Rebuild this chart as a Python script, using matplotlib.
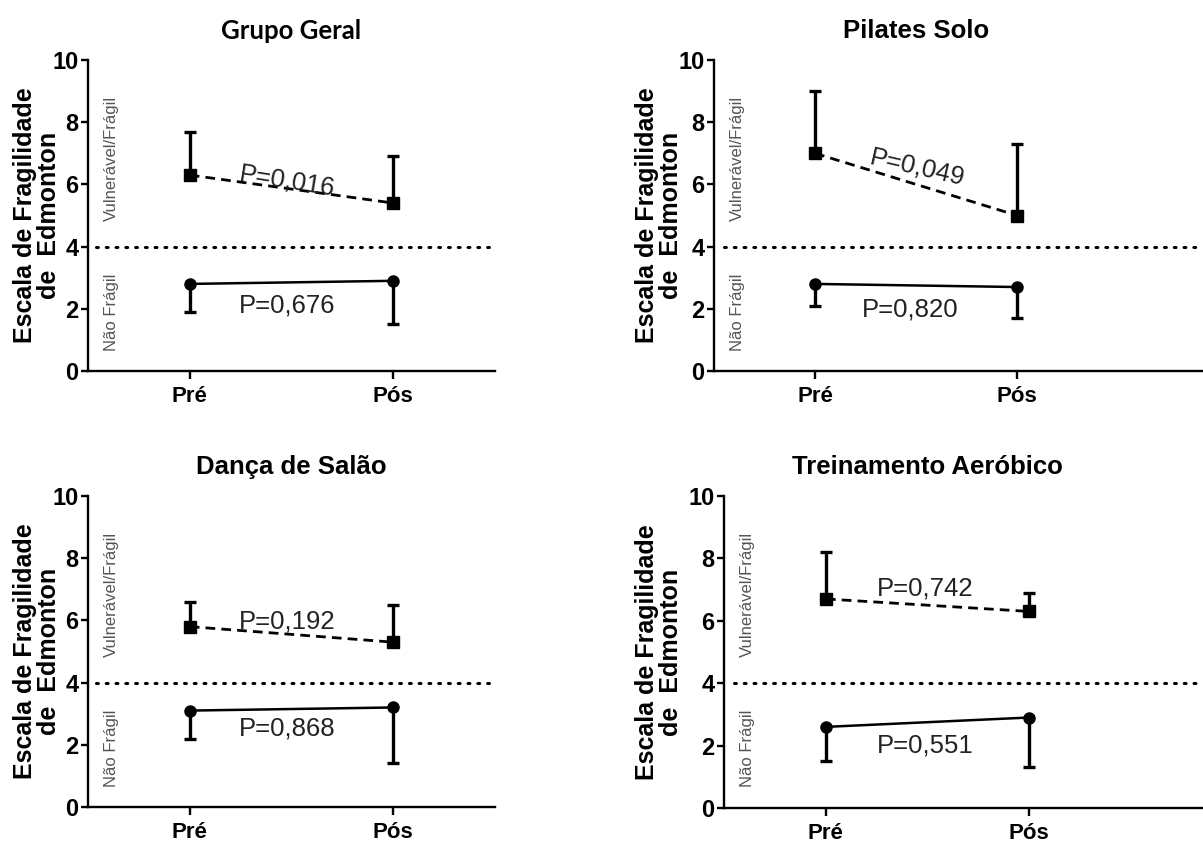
import matplotlib
matplotlib.use("Agg")
import matplotlib.pyplot as plt
from matplotlib.transforms import blended_transform_factory, offset_copy

plt.rcParams['font.family'] = ['Liberation Sans', 'DejaVu Sans']

# data
grupos = ["Grupo Geral", "Pilates Solo", "Dança de Salão", "Treinamento Aeróbico"]
momentos = ["Pré", "Pós"]
vuln_media = [[6.3, 5.4], [7.0, 5.0], [5.8, 5.3], [6.7, 6.3]]
vuln_topo = [[7.7, 6.9], [9.0, 7.3], [6.6, 6.5], [8.2, 6.9]]
naofragil_media = [[2.8, 2.9], [2.8, 2.7], [3.1, 3.2], [2.6, 2.9]]
naofragil_base = [[1.9, 1.5], [2.1, 1.7], [2.2, 1.4], [1.5, 1.3]]
p_vuln = ["P=0,016", "P=0,049", "P=0,192", "P=0,742"]
p_naofragil = ["P=0,676", "P=0,820", "P=0,868", "P=0,551"]
corte = 4

# layout (pixel boxes of each panel: left, right, top, bottom) and text placement
W, H = 1203, 842
caixas = [(88, 495, 60, 371), (714, 1203, 60, 371), (88, 495, 496, 807), (724, 1203, 496, 808)]
xlims = [(-0.5, 1.5), (-0.5, 1.92), (-0.5, 1.5), (-0.502, 1.857)]
pos_p_vuln = [(0.48, 6.1, -9), (0.505, 6.55, -13), (0.48, 5.98, 0), (0.49, 7.04, 0)]
pos_p_nf = [(0.48, 2.12, 0), (0.47, 1.98, 0), (0.48, 2.52, 0), (0.49, 2.01, 0)]
ylabel_off = [51, 55, 51, 65]
titulo_fontes = ["Lato", "Liberation Sans", "Liberation Sans", "Liberation Sans"]

fig = plt.figure(figsize=(W / 100, H / 100), dpi=100)

for i, g in enumerate(grupos):
    l, r, t, b = caixas[i]
    ax = fig.add_axes([l / W, 1 - b / H, (r - l) / W, (b - t) / H])
    x = [0, 1]

    # vulneravel / fragil: dashed line, squares, upper error only
    ax.vlines(x, vuln_media[i], vuln_topo[i], color='black', lw=2.4, zorder=2)
    ax.plot(x, vuln_topo[i], ls='none', marker='_', markersize=9, mew=2.4,
            color='black', zorder=2)
    ax.plot(x, vuln_media[i], color='black', lw=2.0, dashes=(3.5, 2.2),
            marker='s', markersize=8, markerfacecolor='black', zorder=3)

    # nao fragil: solid line, circles, lower error only
    ax.vlines(x, naofragil_base[i], naofragil_media[i], color='black', lw=2.4, zorder=2)
    ax.plot(x, naofragil_base[i], ls='none', marker='_', markersize=9, mew=2.4,
            color='black', zorder=2)
    ax.plot(x, naofragil_media[i], color='black', lw=1.8, marker='o', markersize=8,
            zorder=3)

    # cut-off line
    ax.axhline(corte, xmin=0.02, xmax=1, color='black', lw=2.2, dashes=(0.6, 2.6),
               dash_capstyle='round', zorder=1)

    ax.set_xlim(*xlims[i])
    ax.set_ylim(0, 10)
    ax.set_yticks([0, 2, 4, 6, 8, 10])
    ax.set_xticks(x)
    ax.set_xticklabels(momentos)
    for s in ['top', 'right']:
        ax.spines[s].set_visible(False)
    for s in ['left', 'bottom']:
        ax.spines[s].set_linewidth(1.7)
    ax.tick_params(axis='y', width=1.7, length=5, labelsize=17, pad=2)
    ax.tick_params(axis='x', width=1.7, length=6, labelsize=16, pad=5)
    for lab in ax.get_xticklabels() + ax.get_yticklabels():
        lab.set_fontweight('bold')

    # p values
    xv, yv, rv = pos_p_vuln[i]
    ax.text(xv, yv, p_vuln[i], fontsize=18.5, color='#222222', ha='center', va='center',
            rotation=rv, rotation_mode='anchor')
    xn, yn, rn = pos_p_nf[i]
    ax.text(xn, yn, p_naofragil[i], fontsize=18.5, color='#222222', ha='center', va='center',
            rotation=rn)

    # zone labels
    ax.text(-0.385, 6.85, "Vulnerável/Frágil", rotation=90, fontsize=12, color='#555555',
            ha='center', va='center')
    ax.text(-0.385, 1.9, "Não Frágil", rotation=90, fontsize=12, color='#555555',
            ha='center', va='center')

    # title centred over the two time points
    tr = blended_transform_factory(ax.transData, ax.transAxes)
    ax.text(0.5, 1.0 + 29 / (b - t), g, transform=tr, ha='center', va='center',
            fontsize=18.5, fontweight='bold', family=titulo_fontes[i])

    # two-line y label
    tr_y = offset_copy(ax.transAxes, fig=fig, x=-ylabel_off[i], y=0, units='dots')
    ax.text(0, 0.5, "Escala de Fragilidade\nde  Edmonton", transform=tr_y, rotation=90,
            ha='center', va='center', fontsize=18, fontweight='bold', linespacing=0.95,
            multialignment='center')

fig.savefig("out.png", dpi=100)
